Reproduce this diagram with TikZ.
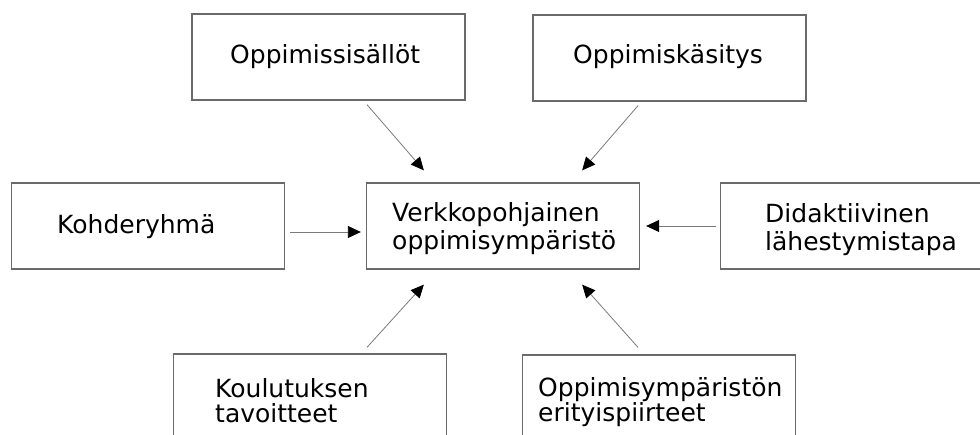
\documentclass[tikz,border=0pt]{standalone}
\usepackage{fontspec}
\setmainfont{DejaVu Sans}
\usepackage{xcolor}
\usetikzlibrary{arrows.meta}
\definecolor{reuna}{HTML}{6A6A6A}
\definecolor{viiva}{HTML}{7A7A7A}

\begin{document}
\begin{tikzpicture}[x=1pt,y=-1pt,
    laatikko/.style={draw=reuna,line width=1.3pt,minimum width=273pt,minimum height=86pt,inner sep=0pt},
    teksti/.style={font=\fontsize{25}{28}\selectfont,inner sep=0pt,align=left},
    nuoli/.style={draw=viiva,line width=0.8pt,-{Triangle[black,length=13pt,width=12pt]}}]

\clip (0,0) rectangle (980,435);

% Laatikot
\node[laatikko] (sisallot) at (328.5,57) {};
\node[laatikko] (kasitys) at (669.5,58) {};
\node[laatikko] (kohde) at (148,226) {};
\node[laatikko] (keski) at (503,226) {};
\node[laatikko] (didak) at (857,226) {};
\node[laatikko] (koulu) at (310,397) {};
\node[laatikko] (erity) at (659,398) {};

% Tekstit
\node[teksti,anchor=base west] (sisallot-t) at (230,64) {Oppimissisällöt};
\node[teksti,anchor=base west] (kasitys-t) at (573,64) {Oppimiskäsitys};
\node[teksti,anchor=base west] (kohde-t) at (57,234) {Kohderyhmä};
\node[teksti,anchor=west] (keski-t) at (392,229) {Verkkopohjainen\\oppimisympäristö};
\node[teksti,anchor=west] (didak-t) at (765,230) {Didaktiivinen\\lähestymistapa};
\node[teksti,font=\fontsize{25}{25}\selectfont,anchor=west] (koulu-t) at (215,401) {Koulutuksen\\tavoitteet};
\node[teksti,font=\fontsize{25}{25}\selectfont,anchor=west] (erity-t) at (538,402) {Oppimisympäristön\\erityispiirteet};

% Nuolet
\draw[nuoli] ([xshift=38.5pt,yshift=-4pt]sisallot.south) -- ([xshift=58pt,yshift=12pt]keski.north west);
\draw[nuoli] ([xshift=-31.5pt,yshift=-4pt]kasitys.south) -- ([xshift=-58pt,yshift=12pt]keski.north east);
\draw[nuoli] ([xshift=5pt,yshift=-6pt]kohde.east) -- ([xshift=-5pt,yshift=-6pt]keski.west);
\draw[nuoli] ([xshift=-4pt]didak.west) -- ([xshift=6pt]keski.east);
\draw[nuoli] ([xshift=57pt,yshift=6pt]koulu.north) -- ([xshift=58pt,yshift=-15pt]keski.south west);
\draw[nuoli] ([xshift=-21pt,yshift=7pt]erity.north) -- ([xshift=-58pt,yshift=-15pt]keski.south east);
\end{tikzpicture}
\end{document}
